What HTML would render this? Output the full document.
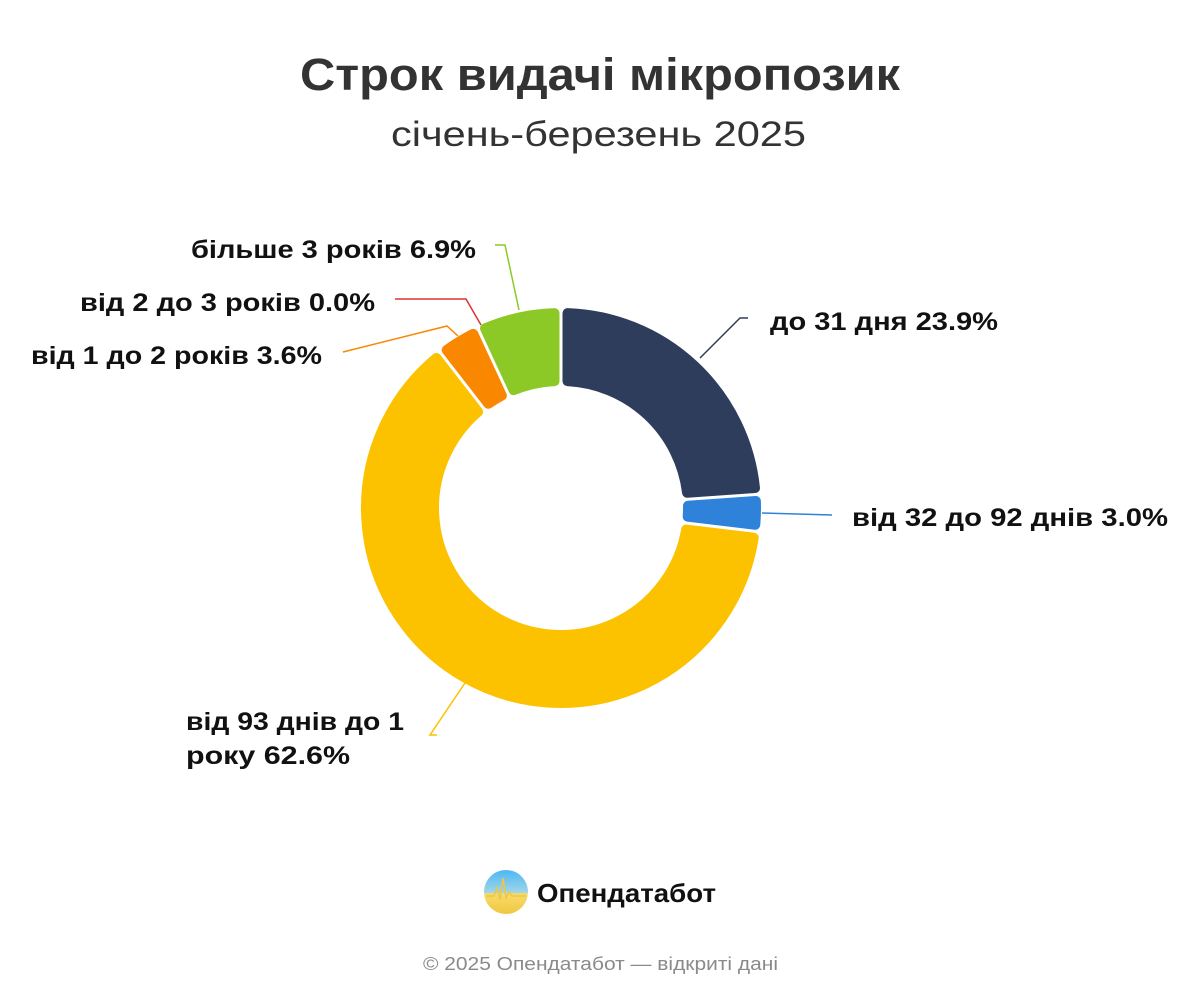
<!DOCTYPE html>
<html><head><meta charset="utf-8"><style>
html,body{margin:0;padding:0;background:#fff;width:1200px;height:1000px;overflow:hidden}
svg{display:block}
text{font-family:"Liberation Sans","DejaVu Sans",sans-serif}
</style></head><body>
<svg id="s" width="1200" height="1000" viewBox="0 0 1200 1000">
<defs><linearGradient id="lg" x1="0" y1="0" x2="0" y2="1">
<stop offset="0" stop-color="#4cb8f5"/><stop offset="0.5" stop-color="#9fd4e8"/><stop offset="0.55" stop-color="#f6dc6a"/><stop offset="1" stop-color="#f0c640"/></linearGradient></defs>
<text x="300" y="90" font-size="45" font-weight="bold" fill="#333" textLength="600" lengthAdjust="spacingAndGlyphs">Строк видачі мікропозик</text>
<text x="391" y="146" font-size="35" fill="#333" textLength="415" lengthAdjust="spacingAndGlyphs">січень-березень 2025</text>
<g id="pie"></g>
<g fill="none" stroke-width="1.5">
<polyline points="700,358 740,318 748,318" stroke="#2e3d5c"/>
<polyline points="762,513 832,515" stroke="#2f82d9"/>
<polyline points="465,683 430,735 437,735" stroke="#fcc200"/>
<polyline points="458,336 447,326 343,352" stroke="#f98800"/>
<polyline points="481,325 466,299 395,299" stroke="#e03030"/>
<polyline points="519,310 505,245 495,245" stroke="#8cc927"/>
</g>
<g font-size="25" font-weight="bold" fill="#111">
<text x="770" y="330" textLength="228" lengthAdjust="spacingAndGlyphs">до 31 дня 23.9%</text>
<text x="852" y="526" textLength="316" lengthAdjust="spacingAndGlyphs">від 32 до 92 днів 3.0%</text>
<text x="186" y="730" textLength="218" lengthAdjust="spacingAndGlyphs">від 93 днів до 1</text>
<text x="186" y="764" textLength="164" lengthAdjust="spacingAndGlyphs">року 62.6%</text>
<text x="31" y="364" textLength="291" lengthAdjust="spacingAndGlyphs">від 1 до 2 років 3.6%</text>
<text x="80" y="311" textLength="295" lengthAdjust="spacingAndGlyphs">від 2 до 3 років 0.0%</text>
<text x="191" y="258" textLength="285" lengthAdjust="spacingAndGlyphs">більше 3 років 6.9%</text>
</g>
<circle cx="506" cy="892" r="22" fill="url(#lg)"/>
<polyline points="486,896 494,896 497,888 500,900 503,878 506,898 509,892 512,896 526,896" fill="none" stroke="#f0c640" stroke-width="1.5"/>
<text x="537" y="902" font-size="26" font-weight="bold" fill="#111" textLength="179" lengthAdjust="spacingAndGlyphs">Опендатабот</text>
<text x="423" y="970" font-size="18" fill="#8a8a8a" textLength="355" lengthAdjust="spacingAndGlyphs">© 2025 Опендатабот — відкриті дані</text>
</svg>
<script>
var cx=561,cy=508,R=195,r=127,data=[[23.9,"#2e3d5c"],[3.0,"#2f82d9"],[62.6,"#fcc200"],[3.6,"#f98800"],[0.0,"#e03030"],[6.9,"#8cc927"]];
var g=document.getElementById("pie"),a=0,ns="http://www.w3.org/2000/svg";
function pt(rad,ang){return [cx+rad*Math.sin(ang),cy-rad*Math.cos(ang)];}
data.forEach(function(d){
 var a0=a,a1=a+d[0]/100*2*Math.PI;a=a1;
 if(d[0]<=0)return;
 var po=6.5/R,pi=6.5/r;
 var o0=a0+po,o1=a1-po,i0=a0+pi,i1=a1-pi;
 if(o1<=o0||i1<=i0)return;
 var p1=pt(R,o0),p2=pt(R,o1),p3=pt(r,i1),p4=pt(r,i0);
 var lo=(o1-o0)>Math.PI?1:0,li=(i1-i0)>Math.PI?1:0;
 var dd="M"+p1+" A"+R+","+R+" 0 "+lo+" 1 "+p2+" L"+p3+" A"+r+","+r+" 0 "+li+" 0 "+p4+" Z";
 var p=document.createElementNS(ns,"path");
 p.setAttribute("d",dd);p.setAttribute("fill",d[1]);p.setAttribute("stroke",d[1]);
 p.setAttribute("stroke-width","10");p.setAttribute("stroke-linejoin","round");
 g.appendChild(p);
});
</script>
</body></html>
